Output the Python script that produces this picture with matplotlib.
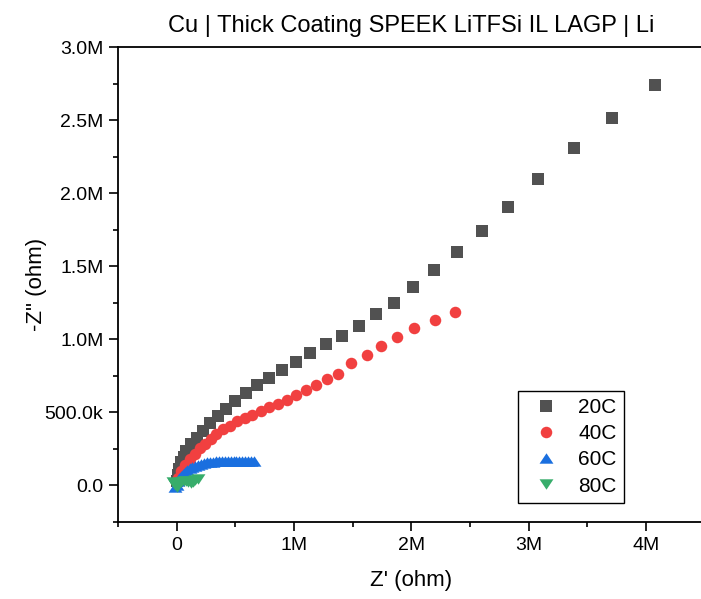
import matplotlib
matplotlib.use('Agg')
import matplotlib.pyplot as plt
from matplotlib.ticker import FuncFormatter, MultipleLocator

plt.rcParams['font.family'] = ['Liberation Sans', 'DejaVu Sans']

# impedance data, values in M ohm
x20 = [0.005, 0.01, 0.02, 0.04, 0.06, 0.08, 0.119, 0.171, 0.222, 0.287, 0.350, 0.418, 0.494,
       0.588, 0.682, 0.784, 0.895, 1.014, 1.140, 1.270, 1.407, 1.552, 1.702, 1.850, 2.014,
       2.194, 2.387, 2.600, 2.828, 3.080, 3.387, 3.714, 4.075]
y20 = [0.03, 0.07, 0.115, 0.158, 0.198, 0.239, 0.287, 0.328, 0.376, 0.424, 0.472, 0.526, 0.581,
       0.636, 0.684, 0.738, 0.793, 0.848, 0.909, 0.971, 1.025, 1.094, 1.176, 1.251, 1.355,
       1.474, 1.597, 1.743, 1.907, 2.100, 2.306, 2.513, 2.741]

x40 = [0.0, 0.01, 0.040, 0.074, 0.111, 0.153, 0.196, 0.239, 0.290, 0.338, 0.395, 0.452, 0.514,
       0.580, 0.645, 0.716, 0.787, 0.864, 0.940, 1.020, 1.106, 1.188, 1.285, 1.375, 1.486,
       1.626, 1.739, 1.878, 2.023, 2.199, 2.373]
y40 = [0.02, 0.05, 0.098, 0.139, 0.178, 0.217, 0.253, 0.287, 0.319, 0.351, 0.383, 0.410, 0.440,
       0.460, 0.485, 0.508, 0.535, 0.558, 0.588, 0.617, 0.651, 0.690, 0.731, 0.766, 0.839,
       0.891, 0.952, 1.016, 1.078, 1.130, 1.185]

x60 = [-0.01, 0.0, 0.01, 0.02, 0.035, 0.05, 0.07, 0.09, 0.11, 0.135, 0.16, 0.185, 0.21, 0.235,
       0.26, 0.285, 0.31, 0.335, 0.36, 0.385, 0.41, 0.435, 0.46, 0.485, 0.51, 0.535, 0.56,
       0.585, 0.61, 0.635, 0.66]
y60 = [-0.01, 0.005, 0.03, 0.05, 0.065, 0.078, 0.09, 0.105, 0.118, 0.128, 0.136, 0.143, 0.149,
       0.154, 0.158, 0.161, 0.163, 0.165, 0.166, 0.166, 0.167, 0.167, 0.168, 0.168, 0.168,
       0.167, 0.167, 0.167, 0.166, 0.166, 0.165]

x80 = [-0.03, -0.02, -0.01, 0.0, 0.01, 0.02, 0.04, 0.06, 0.08, 0.10, 0.12, 0.14, 0.16, 0.18]
y80 = [0.025, 0.015, 0.005, -0.012, 0.0, 0.015, 0.025, 0.03, 0.03, 0.025, 0.02, 0.025, 0.035, 0.045]

# wide, flat triangles like the Origin symbols
tri_up = [(-1, -0.75), (1, -0.75), (0, 0.75), (-1, -0.75)]
tri_down = [(-1, 0.75), (1, 0.75), (0, -0.75), (-1, 0.75)]

series = [
    (x20, y20, 's', 8, '#515151', '20C'),
    (x40, y40, 'o', 8.3, '#F14040', '40C'),
    (x60, y60, tri_up, 10, '#1A6FDF', '60C'),
    (x80, y80, tri_down, 10, '#37AD6B', '80C'),
]

fig = plt.figure(figsize=(7.01, 5.99), dpi=100)
ax = fig.add_axes([118 / 701, 1 - 522 / 599, 586.5 / 701, 475 / 599])

for xs, ys, m, ms, c, lab in series:
    ax.plot([v * 1e6 for v in xs], [v * 1e6 for v in ys], linestyle='none', marker=m,
            color=c, markersize=ms, markeredgewidth=0, label=lab)

ax.set_xlim(-0.5e6, 4.5e6)
ax.set_ylim(-0.25e6, 3.0e6)
ax.xaxis.set_major_locator(MultipleLocator(1e6))
ax.xaxis.set_minor_locator(MultipleLocator(0.5e6))
ax.yaxis.set_major_locator(MultipleLocator(0.5e6))
ax.yaxis.set_minor_locator(MultipleLocator(0.25e6))


def fx(v, pos):
    if abs(v) < 1:
        return '0'
    return '%dM' % round(v / 1e6)


def fy(v, pos):
    if abs(v) < 1:
        return '0.0'
    if abs(v) < 1e6:
        return '%.1fk' % (v / 1e3)
    return '%.1fM' % (v / 1e6)


ax.xaxis.set_major_formatter(FuncFormatter(fx))
ax.yaxis.set_major_formatter(FuncFormatter(fy))

ax.tick_params(which='major', direction='out', length=6.5, width=1.2, labelsize=14, pad=4)
ax.tick_params(which='minor', direction='out', length=3.5, width=1.2)
for s in ['left', 'bottom', 'top']:
    ax.spines[s].set_linewidth(1.3)
ax.spines['right'].set_visible(False)

ax.set_xlabel("Z' (ohm)", fontsize=16, labelpad=12)
ax.set_ylabel('-Z" (ohm)', fontsize=16, labelpad=-2)
ax.set_title('Cu | Thick Coating SPEEK LiTFSi IL LAGP | Li', fontsize=17, pad=11)

leg = ax.legend(loc='lower left', bbox_to_anchor=(0.682, 0.04), fontsize=15,
                fancybox=False, edgecolor='black', framealpha=1, handletextpad=0.55,
                labelspacing=0.35, borderpad=0.35, handlelength=2.0, borderaxespad=0)
leg.get_frame().set_linewidth(1.0)

plt.savefig('out.png', dpi=100)
